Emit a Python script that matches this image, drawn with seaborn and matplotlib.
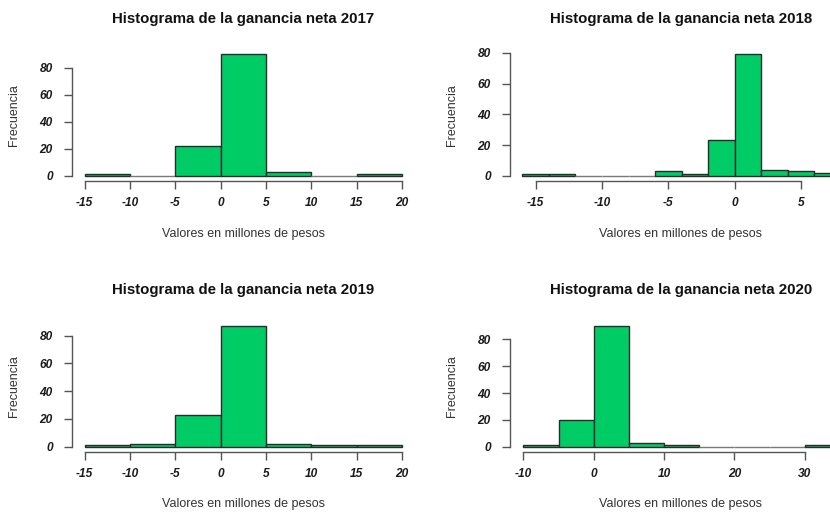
import matplotlib
matplotlib.use("Agg")
import matplotlib.pyplot as plt
import numpy as np
import seaborn as sns

sns.set_style("white")
plt.rcParams["font.family"] = ["Liberation Sans", "DejaVu Sans"]
plt.rcParams["axes.unicode_minus"] = False

# bin edges and frequencies
edges_2017 = [-15, -10, -5, 0, 5, 10, 15, 20]
counts_2017 = [1, 0, 22, 90, 3, 0, 1]

edges_2018 = [-16, -14, -12, -10, -8, -6, -4, -2, 0, 2, 4, 6, 8]
counts_2018 = [1, 1, 0, 0, 0, 3, 1, 23, 79, 4, 3, 2]

edges_2019 = [-15, -10, -5, 0, 5, 10, 15, 20]
counts_2019 = [1, 2, 23, 87, 2, 1, 1]

edges_2020 = [-10, -5, 0, 5, 10, 15, 20, 25, 30, 35]
counts_2020 = [1, 20, 90, 3, 1, 0, 0, 0, 1]

xticks_2017 = [-15, -10, -5, 0, 5, 10, 15, 20]
xticks_2018 = [-15, -10, -5, 0, 5]
xticks_2019 = [-15, -10, -5, 0, 5, 10, 15, 20]
xticks_2020 = [-10, 0, 10, 20, 30]
yticks = [0, 20, 40, 60, 80]

FILL = "#00cc66"
EDGE = "#2b2b2b"
AXIS = "#555555"

W, H = 830, 512
fig = plt.figure(figsize=(W / 100, H / 100), dpi=100)

panels = [
    # year, edges, counts, ticks, (left, top, right, bottom) px, xlim, label x
    (2017, edges_2017, counts_2017, xticks_2017, (72, 49.5, 414.7, 180.7), (-16.4, 21.4), 0.5),
    (2018, edges_2018, counts_2018, xticks_2018, (510, 49.5, 830, 180.7), (-16.93, 7.18), 0.534),
    (2019, edges_2019, counts_2019, xticks_2019, (72, 321.2, 414.7, 451.5), (-16.4, 21.4), 0.5),
    (2020, edges_2020, counts_2020, xticks_2020, (510, 321.2, 830, 451.5), (-11.9, 33.6), 0.534),
]

for year, edges, counts, xticks, box, xlim, lx in panels:
    l, t, r, b = box
    ax = fig.add_axes([l / W, 1 - b / H, (r - l) / W, (b - t) / H])
    centers = (np.array(edges[:-1]) + np.array(edges[1:])) / 2
    sns.histplot(x=centers, weights=counts, bins=edges, ax=ax,
                 color=FILL, alpha=1, edgecolor=EDGE, linewidth=1)
    # empty bins show as a grey baseline in the original
    for patch, c in zip(ax.patches, counts):
        if c == 0:
            patch.set_edgecolor("#7a7a7a")
    ymax = max(counts)
    ax.set_ylim(-0.04 * ymax, 1.04 * ymax)
    ax.set_xlim(*xlim)

    for s in ["top", "right"]:
        ax.spines[s].set_visible(False)
    ax.spines["left"].set_bounds(yticks[0], yticks[-1])
    ax.spines["bottom"].set_bounds(xticks[0], xticks[-1])
    for s in ["left", "bottom"]:
        ax.spines[s].set_color(AXIS)
        ax.spines[s].set_linewidth(1)

    ax.set_xticks(xticks)
    ax.set_yticks(yticks)
    ax.tick_params(axis="x", direction="out", length=5.8, width=1, color=AXIS, pad=6)
    ax.tick_params(axis="y", direction="out", length=5.8, width=1, color=AXIS, pad=8)
    ax.tick_params(bottom=True, left=True)
    for lab in ax.get_xticklabels() + ax.get_yticklabels():
        lab.set_fontweight("bold")
        lab.set_fontstyle("italic")
        lab.set_fontsize(8.6)
        lab.set_color("#1a1a1a")

    ax.set_xlabel("Valores en millones de pesos", fontsize=9, color="#333333")
    ax.set_ylabel("Frecuencia", fontsize=9, color="#333333")
    ax.xaxis.set_label_coords(lx, -0.36)
    ax.yaxis.set_label_coords(-52 / (r - l), 0.5)
    ax.text(lx, 1 + 31 / (b - t), f"Histograma de la ganancia neta {year}",
            transform=ax.transAxes, ha="center", va="center",
            fontsize=10.8, fontweight="bold", color="#111111")

fig.savefig("out.png", dpi=100)
plt.close(fig)
